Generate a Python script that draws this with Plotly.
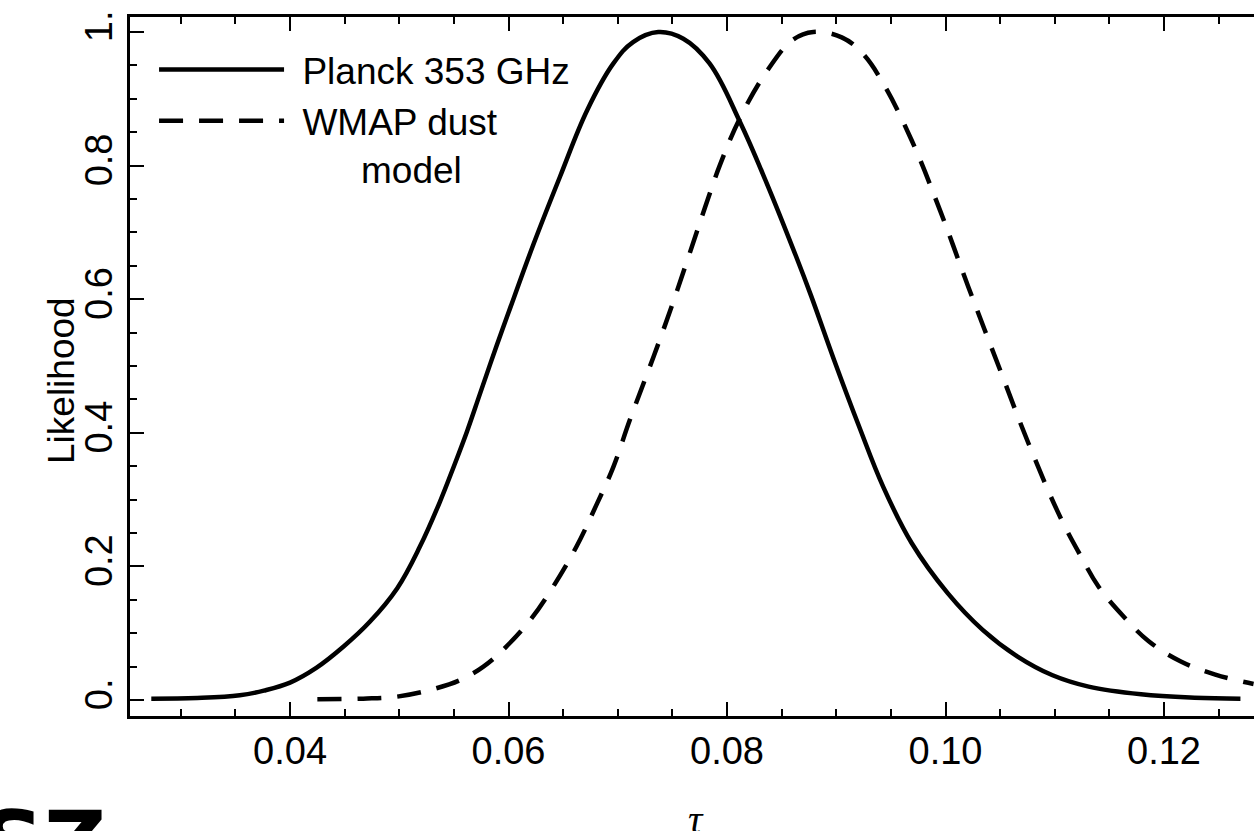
import plotly.graph_objects as go

# ---- data ----
tau_planck = [0.0273, 0.0315, 0.0354, 0.0376, 0.0400, 0.0424, 0.0449, 0.0473, 0.0498,
              0.0519, 0.0537, 0.0550, 0.0562, 0.0574, 0.0589, 0.0600, 0.0623, 0.0647,
              0.0672, 0.0696, 0.0714, 0.0737, 0.0760, 0.0784, 0.0812, 0.0836, 0.0863,
              0.0877, 0.0898, 0.0921, 0.0943, 0.0969, 0.1002, 0.1034, 0.1066, 0.1098,
              0.1131, 0.1179, 0.1228, 0.1270]
like_planck = [0.002, 0.003, 0.007, 0.014, 0.026, 0.048, 0.080, 0.117, 0.167,
               0.230, 0.296, 0.350, 0.402, 0.459, 0.530, 0.580, 0.683, 0.783,
               0.883, 0.953, 0.985, 1.000, 0.990, 0.953, 0.865, 0.775, 0.665,
               0.605, 0.509, 0.409, 0.319, 0.235, 0.160, 0.105, 0.065, 0.037,
               0.020, 0.0085, 0.0035, 0.002]

tau_wmap = [0.0425, 0.0467, 0.0498, 0.0534, 0.0556, 0.0577, 0.0598, 0.0620, 0.0641,
            0.0662, 0.0681, 0.0696, 0.0711, 0.0733, 0.0748, 0.0763, 0.0780, 0.0794,
            0.0813, 0.0838, 0.0860, 0.0879, 0.0905, 0.0924, 0.0943, 0.0969, 0.0995,
            0.1021, 0.1050, 0.1076, 0.1105, 0.1124, 0.1140, 0.1163, 0.1186, 0.1215,
            0.1247, 0.1282]
like_wmap = [0.001, 0.002, 0.005, 0.0175, 0.030, 0.050, 0.080, 0.120, 0.170,
             0.229, 0.294, 0.349, 0.419, 0.515, 0.583, 0.655, 0.738, 0.803,
             0.875, 0.945, 0.988, 1.000, 0.992, 0.968, 0.923, 0.838, 0.733,
             0.618, 0.494, 0.384, 0.274, 0.215, 0.170, 0.125, 0.088, 0.058,
             0.038, 0.024]

x_tickvals = [0.04, 0.06, 0.08, 0.10, 0.12]
x_ticktext = ["0.04", "0.06", "0.08", "0.10", "0.12"]
y_tickvals = [0.0, 0.2, 0.4, 0.6, 0.8, 1.0]
y_ticktext = ["0.", "0.2", "0.4", "0.6", "0.8", "1."]

NB = "&nbsp;"
LEAD = NB + "\u200a"
series_names = [LEAD + "Planck 353 GHz",
                LEAD + "WMAP dust<br>" + NB * 7 + "model"]

x_title = "<i>τ</i>"
y_title = "Likelihood"
corner_text = "tSZ"

x_range = [0.02535, 0.12824]
y_range = [-0.024, 1.0225]

SANS = "Liberation Sans, Arial, Helvetica, sans-serif"
SERIF = "Liberation Serif, Times New Roman, serif"

fig = go.Figure()
fig.add_trace(go.Scatter(
    x=tau_planck, y=like_planck, mode="lines", name=series_names[0],
    line=dict(color="black", width=4.5, shape="spline", smoothing=1.1)))
fig.add_trace(go.Scatter(
    x=tau_wmap, y=like_wmap, mode="lines", name=series_names[1],
    line=dict(color="black", width=4.5, dash="24px,16px", shape="spline", smoothing=1.1)))

axis_common = dict(tickcolor="black", tickwidth=2, showgrid=False, zeroline=False,
                   tickmode="array", automargin=False)

fig.update_layout(
    width=1254, height=831,
    margin=dict(l=130, r=0, t=17, b=115, pad=0, autoexpand=False),
    paper_bgcolor="white", plot_bgcolor="white",
    font=dict(family=SANS, size=38, color="black"),
    showlegend=True,
    legend=dict(x=0.0214, y=0.9685, xanchor="left", yanchor="top",
                bgcolor="rgba(0,0,0,0)", borderwidth=0, itemwidth=125,
                valign="top", tracegroupgap=0,
                font=dict(family=SANS, size=37, color="black")),
    xaxis=dict(range=x_range, tickvals=x_tickvals, ticktext=x_ticktext,
               ticks="inside", ticklen=14, showline=True, linewidth=2.5,
               linecolor="black", mirror="ticks",
               tickfont=dict(family=SANS, size=38, color="black"),
               minor=dict(dtick=0.005, tick0=0, ticks="inside", ticklen=7,
                          tickwidth=2, tickcolor="black", showgrid=False),
               **axis_common),
    yaxis=dict(range=y_range, tickvals=y_tickvals, ticktext=y_ticktext,
               ticks="inside", ticklen=14, showline=True, linewidth=2.5,
               linecolor="black", mirror=False, tickangle=-90,
               tickfont=dict(family=SANS, size=38, color="black"),
               minor=dict(dtick=0.05, tick0=0, ticks="inside", ticklen=7,
                          tickwidth=2, tickcolor="black", showgrid=False),
               **axis_common),
    yaxis2=dict(range=y_range, overlaying="y", side="right", anchor="x",
                tickvals=y_tickvals, ticks="inside", ticklen=6,
                showticklabels=False, showline=False,
                minor=dict(dtick=0.05, tick0=0, ticks="inside", ticklen=2,
                           tickwidth=2, tickcolor="black", showgrid=False),
                **axis_common),
    annotations=[
        dict(text=y_title, xref="paper", yref="paper", x=-0.0605, y=0.4807,
             xanchor="center", yanchor="middle", textangle=-90, showarrow=False,
             font=dict(family=SANS, size=37, color="black")),
        dict(text=x_title, xref="paper", yref="paper", x=0.5036, y=-0.1130,
             xanchor="center", yanchor="top", showarrow=False,
             font=dict(family=SERIF, size=40, color="black")),
        dict(text=corner_text, xref="paper", yref="paper",
             x=-0.0196, y=-0.1059, xanchor="right", yanchor="top",
             showarrow=False,
             font=dict(family="DejaVu Sans", size=86, color="black", weight="bold")),
    ],
)

fig.write_html("out.html")
